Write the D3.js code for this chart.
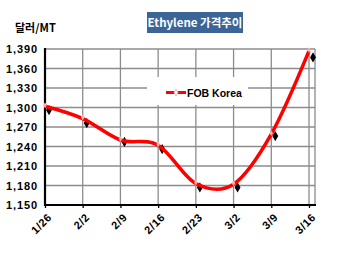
<!DOCTYPE html>
<html>
<head>
<meta charset="utf-8">
<script src="https://cdn.jsdelivr.net/npm/d3@7"></script>
<style>
  html, body { margin: 0; padding: 0; background: #fff; }
  svg { display: block; font-family: "Liberation Sans", Arial, sans-serif; }
</style>
</head>
<body>
<div id="chart"></div>
<script>
// data
const dates = ["1/26", "2/2", "2/9", "2/16", "2/23", "3/2", "3/9", "3/16"];
const fobKorea = [1302, 1283, 1250, 1242, 1183, 1182, 1259, 1387];   // smoothed red line
const weekly = [1296, 1276, 1247, 1236, 1177, 1177, 1256, 1377];     // black diamonds
const yTicks = [1150, 1180, 1210, 1240, 1270, 1300, 1330, 1360, 1390];

const width = 350, height = 253;
const plotL = 45, plotR = 315, plotT = 49, plotB = 205;

const svg = d3.select("#chart").append("svg")
    .attr("width", width)
    .attr("height", height);

const x = d3.scalePoint().domain(dates).range([plotL, 309]);
const y = d3.scaleLinear().domain([1150, 1390]).range([plotB, plotT]);

// horizontal grid
svg.append("g")
    .selectAll("line")
    .data(yTicks.slice(1))
    .join("line")
    .attr("x1", plotL).attr("x2", plotR)
    .attr("y1", d => y(d)).attr("y2", d => y(d))
    .style("stroke", "#8c8c8c")
    .style("stroke-width", 1.3);

// vertical grid
svg.append("g")
    .selectAll("line")
    .data(dates.slice(1))
    .join("line")
    .attr("x1", d => x(d)).attr("x2", d => x(d))
    .attr("y1", plotT).attr("y2", plotB)
    .style("stroke", "#8c8c8c")
    .style("stroke-width", 1.3);

// right border
svg.append("line")
    .attr("x1", plotR).attr("x2", plotR)
    .attr("y1", plotT).attr("y2", plotB)
    .style("stroke", "#8c8c8c")
    .style("stroke-width", 1.3);

// legend box (white, covers the grid)
const legend = svg.append("g");
legend.append("rect")
    .attr("x", 147).attr("y", 77)
    .attr("width", 101).attr("height", 28)
    .attr("fill", "#fff");
legend.append("line")
    .attr("x1", 166).attr("x2", 186)
    .attr("y1", 92.5).attr("y2", 92.5)
    .style("stroke", "#ff0000")
    .style("stroke-width", 3);
legend.append("path")
    .attr("d", d3.symbol(d3.symbolDiamond, 14)())
    .attr("transform", "translate(176,92.5)")
    .attr("fill", "#fff")
    .attr("stroke", "#ff9a9a")
    .attr("stroke-width", 0.8);
legend.append("text")
    .attr("x", 187).attr("y", 96.5)
    .style("font-size", "10.5px")
    .style("font-weight", "bold")
    .text("FOB Korea");

// axes
const yAxis = d3.axisLeft(y).tickValues(yTicks).tickSize(0).tickPadding(7)
    .tickFormat(d3.format(","));
const gy = svg.append("g")
    .attr("transform", `translate(${plotL},0)`)
    .call(yAxis);
gy.select(".domain").remove();
gy.selectAll("text")
    .style("font-size", "11px")
    .style("font-weight", "bold")
    .style("letter-spacing", "0.9px")
    .attr("fill", "#000");

const xAxis = d3.axisBottom(x).tickSize(3).tickPadding(0);
const gx = svg.append("g")
    .attr("transform", `translate(0,${plotB})`)
    .call(xAxis);
gx.select(".domain").remove();
gx.selectAll(".tick line").style("stroke", "#000").style("stroke-width", 1.3);
gx.selectAll("text")
    .attr("y", 0).attr("dy", 0)
    .attr("text-anchor", "end")
    .attr("transform", "translate(7,13) rotate(-45)")
    .style("font-size", "11px")
    .style("font-weight", "bold")
    .style("letter-spacing", "0.6px")
    .attr("fill", "#000");

svg.append("line")
    .attr("x1", plotL).attr("x2", plotL)
    .attr("y1", plotT - 1).attr("y2", plotB + 1)
    .style("stroke", "#000").style("stroke-width", 2.2);
svg.append("line")
    .attr("x1", plotL - 1).attr("x2", plotR + 1)
    .attr("y1", plotB).attr("y2", plotB)
    .style("stroke", "#000").style("stroke-width", 2.2);

// diamonds
svg.append("g")
    .selectAll("path")
    .data(weekly)
    .join("path")
    .attr("d", d3.symbol(d3.symbolDiamond, 30))
    .attr("transform", (d, i) => `translate(${x(dates[i]) + 4},${y(d)})`)
    .attr("fill", "#000");

// smoothed red line
const line = d3.line()
    .x((d, i) => x(dates[i]))
    .y(d => y(d))
    .curve(d3.curveCatmullRom.alpha(0));
svg.append("path")
    .datum(fobKorea)
    .attr("d", line)
    .attr("fill", "none")
    .attr("stroke", "#ff0000")
    .attr("stroke-width", 3.5)
    .attr("stroke-linejoin", "round");

svg.append("g")
    .selectAll("path")
    .data(fobKorea)
    .join("path")
    .attr("d", d3.symbol(d3.symbolDiamond, 10))
    .attr("transform", (d, i) => `translate(${x(dates[i])},${y(d) - 1})`)
    .attr("fill", "#ffb0b0");

// title
svg.append("rect")
    .attr("x", 147).attr("y", 12)
    .attr("width", 96).attr("height", 21)
    .attr("fill", "#3b6497");
svg.append("text")
    .attr("x", 195).attr("y", 27)
    .attr("text-anchor", "middle")
    .attr("fill", "#fff")
    .style("font-family", "'Noto Sans CJK KR', 'Liberation Sans', sans-serif")
    .style("font-size", "11.5px")
    .style("font-weight", "bold")
    .text("Ethylene 가격추이");

svg.append("text")
    .attr("x", 15).attr("y", 32)
    .style("font-family", "'Noto Sans CJK KR', 'Liberation Sans', sans-serif")
    .style("font-size", "11px")
    .style("font-weight", "bold")
    .text("달러/MT");
</script>
</body>
</html>
